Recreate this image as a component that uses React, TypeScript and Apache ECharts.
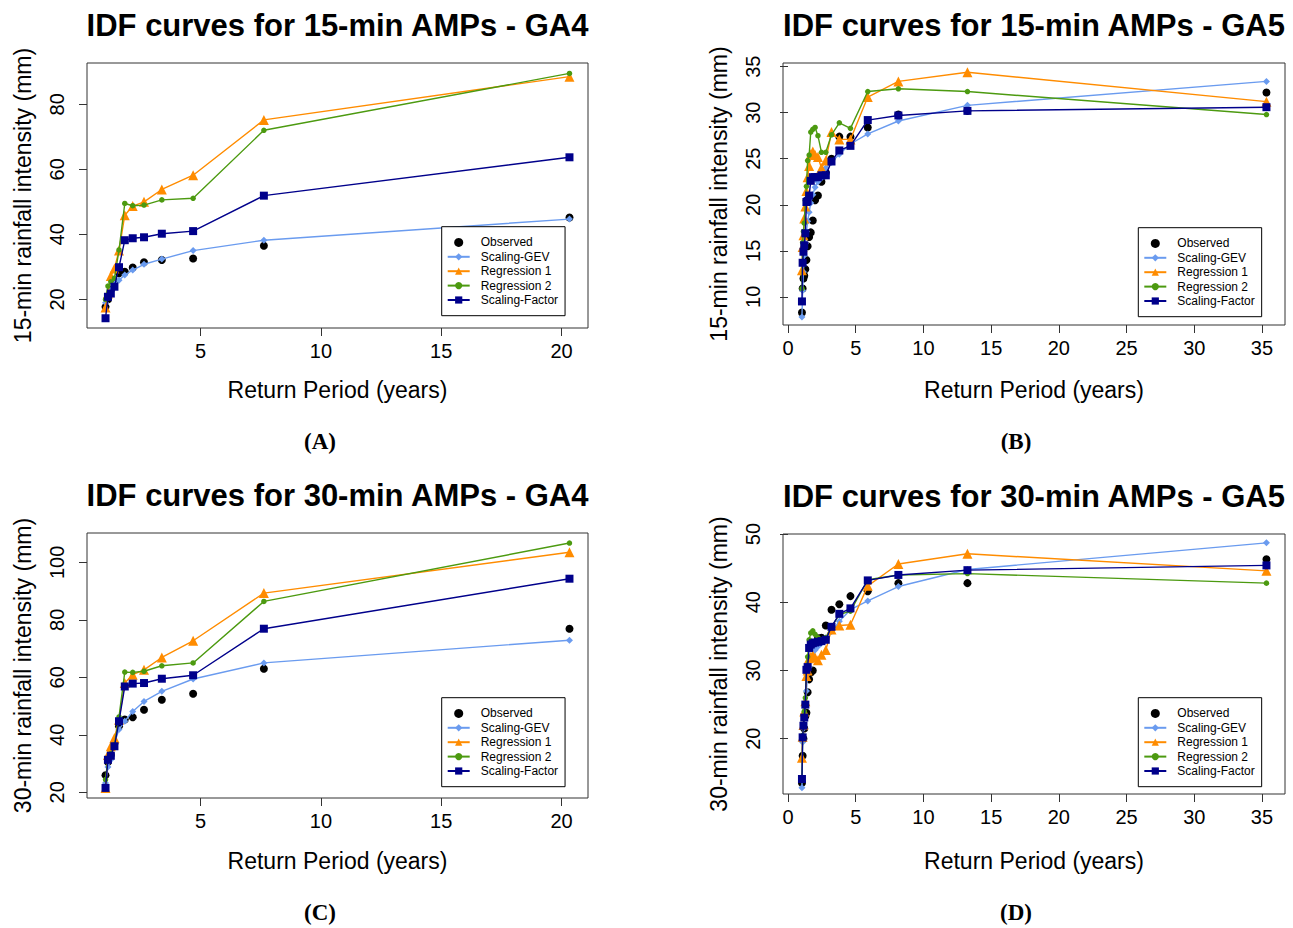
import React, { useEffect, useRef } from "react";
import * as echarts from "echarts";

// ---------- Data ----------
const periodsGA4 = [1.05, 1.15, 1.27, 1.42, 1.61, 1.85, 2.18, 2.65, 3.39, 4.69, 7.63, 20.33];
const periodsGA5 = [1.03, 1.08, 1.14, 1.2, 1.28, 1.36, 1.45, 1.56, 1.68, 1.83, 2.0, 2.21, 2.47, 2.79, 3.21, 3.79, 4.61, 5.89, 8.15, 13.25, 35.33];

// Panel A: 15-min GA4
const a_observed = [17.7, 20.0, 22.9, 25.4, 28.0, 28.5, 29.8, 31.4, 32.1, 32.6, 36.5, 45.2];
const a_scalingGEV = [19.0, 20.6, 22.9, 24.7, 25.9, 27.5, 29.0, 30.8, 32.4, 35.0, 38.2, 44.7];
const a_regression1 = [17.5, 21.8, 27.2, 29.5, 35.0, 45.9, 48.7, 50.0, 53.8, 58.2, 75.2, 88.5];
const a_regression2 = [20.0, 24.1, 25.4, 26.5, 35.2, 49.5, 48.8, 49.0, 50.6, 51.1, 72.0, 89.5];
const a_scalingFactor = [14.2, 20.8, 21.8, 23.9, 29.9, 38.2, 38.8, 39.1, 40.2, 41.0, 51.9, 63.7];

// Panel B: 15-min GA5
const b_observed = [8.3, 10.9, 12.0, 12.3, 13.0, 14.0, 15.5, 16.5, 17.0, 18.3, 20.5, 21.0, 22.5, 23.5, 25.0, 27.4, 27.4, 28.4, 29.8, 30.2, 32.2];
const b_scalingGEV = [7.8, 10.7, 12.7, 14.5, 15.8, 17.1, 18.2, 19.2, 20.2, 21.1, 21.9, 22.5, 22.9, 24.0, 24.6, 25.5, 26.6, 27.7, 29.1, 30.8, 33.4];
const b_regression1 = [12.9, 15.4, 16.7, 18.5, 19.8, 21.5, 23.0, 24.2, 25.5, 25.8, 25.4, 25.2, 24.0, 24.8, 27.9, 27.1, 27.1, 31.7, 33.4, 34.4, 31.2];
const b_regression2 = [10.9, 15.9, 17.1, 18.0, 20.5, 22.0, 24.8, 25.4, 27.9, 28.2, 28.4, 27.5, 25.7, 25.7, 27.6, 28.9, 28.3, 32.3, 32.6, 32.3, 29.8];
const b_scalingFactor = [9.5, 13.7, 14.9, 15.6, 16.9, 20.3, 20.4, 21.0, 22.6, 23.0, 23.0, 23.0, 23.2, 23.2, 24.7, 25.9, 26.4, 29.2, 29.7, 30.2, 30.6];

// Panel C: 30-min GA4
const c_observed = [25.9, 30.5, 33.0, 37.0, 43.0, 45.3, 46.1, 48.7, 52.2, 54.3, 63.0, 76.9];
const c_scalingGEV = [23.2, 28.8, 31.3, 37.1, 41.8, 44.7, 48.1, 51.6, 55.1, 59.4, 65.0, 72.9];
const c_regression1 = [21.5, 33.0, 36.0, 38.9, 45.2, 58.0, 60.9, 62.6, 66.9, 72.7, 89.3, 103.5];
const c_regression2 = [24.4, 31.9, 33.4, 36.5, 46.2, 61.8, 61.7, 62.1, 64.0, 65.0, 86.4, 106.7];
const c_scalingFactor = [21.5, 31.3, 32.7, 36.0, 44.7, 56.8, 57.8, 58.0, 59.5, 60.7, 76.9, 94.3];

// Panel D: 30-min GA5
const d_observed = [13.5, 17.5, 20.0, 21.5, 23.3, 23.8, 26.8, 28.7, 29.7, 30.0, 33.5, 34.7, 34.8, 36.6, 38.9, 39.7, 40.9, 41.6, 42.8, 42.8, 46.3];
const d_scalingGEV = [12.8, 19.5, 21.5, 23.0, 25.0, 27.0, 29.5, 30.5, 31.5, 32.3, 33.0, 33.5, 34.0, 34.8, 35.7, 37.2, 38.9, 40.2, 42.3, 44.8, 48.7];
const d_regression1 = [17.2, 20.3, 22.0, 24.0, 25.5, 29.2, 30.0, 31.8, 32.0, 32.2, 31.9, 31.5, 32.3, 33.0, 36.0, 36.6, 36.7, 42.4, 45.6, 47.1, 44.6];
const d_regression2 = [14.2, 20.5, 22.0, 24.0, 26.0, 30.5, 32.0, 34.5, 35.5, 35.8, 35.3, 34.8, 34.5, 34.8, 36.4, 38.2, 38.7, 43.3, 44.0, 44.2, 42.8];
const d_scalingFactor = [14.1, 20.2, 21.9, 23.1, 25.0, 30.1, 30.5, 33.3, 33.8, 34.0, 34.1, 34.2, 34.3, 34.5, 36.4, 38.3, 39.1, 43.2, 44.0, 44.7, 45.4];

// Tick labels
const xTicksGA4 = [5, 10, 15, 20];
const xTicksGA5 = [0, 5, 10, 15, 20, 25, 30, 35];
const yTicksA = [20, 40, 60, 80];
const yTicksB = [10, 15, 20, 25, 30, 35];
const yTicksC = [20, 40, 60, 80, 100];
const yTicksD = [20, 30, 40, 50];

const seriesNames = ["Observed", "Scaling-GEV", "Regression 1", "Regression 2", "Scaling-Factor"];
const titles = [
  "IDF curves for 15-min AMPs - GA4",
  "IDF curves for 15-min AMPs - GA5",
  "IDF curves for 30-min AMPs - GA4",
  "IDF curves for 30-min AMPs - GA5",
];
const captions = ["(A)", "(B)", "(C)", "(D)"];
const yNames = [
  "15-min rainfall intensity (mm)",
  "15-min rainfall intensity (mm)",
  "30-min rainfall intensity (mm)",
  "30-min rainfall intensity (mm)",
];
const xName = "Return Period (years)";

const panels = [
  { x: periodsGA4, ys: [a_observed, a_scalingGEV, a_regression1, a_regression2, a_scalingFactor], xTicks: xTicksGA4, yTicks: yTicksA },
  { x: periodsGA5, ys: [b_observed, b_scalingGEV, b_regression1, b_regression2, b_scalingFactor], xTicks: xTicksGA5, yTicks: yTicksB },
  { x: periodsGA4, ys: [c_observed, c_scalingGEV, c_regression1, c_regression2, c_scalingFactor], xTicks: xTicksGA4, yTicks: yTicksC },
  { x: periodsGA5, ys: [d_observed, d_scalingGEV, d_regression1, d_regression2, d_scalingFactor], xTicks: xTicksGA5, yTicks: yTicksD },
];

// ---------- Layout / style ----------
const grids = [
  { left: 87, top: 63, width: 501, height: 265 },
  { left: 783, top: 63, width: 502, height: 262 },
  { left: 87, top: 533, width: 501, height: 265 },
  { left: 783, top: 534, width: 502, height: 260 },
];
const xNameCenterY = [391, 391, 862, 862];
const xRanges = [[0.28, 21.1], [-0.37, 36.7], [0.28, 21.1], [-0.37, 36.7]];
const yRanges = [[11.2, 92.7], [6.94, 35.4], [18.0, 110.2], [11.9, 50.0]];
const legendPos = [
  { left: 441.7, top: 226.7 },
  { left: 1138.3, top: 227.7 },
  { left: 441.7, top: 697.7 },
  { left: 1138.3, top: 697.7 },
];
const captionPos = [
  { x: 320, y: 442 },
  { x: 1016, y: 442 },
  { x: 320, y: 913 },
  { x: 1016, y: 913 },
];

const styles = [
  { color: "#000000", symbol: "circle", size: 8, line: false },
  { color: "#6A9BEF", symbol: "diamond", size: 7, line: true },
  { color: "#FF8C00", symbol: "triangle", size: 10, line: true },
  { color: "#4C9A10", symbol: "circle", size: 5.5, line: true },
  { color: "#00008B", symbol: "rect", size: 8, line: true },
];

const SANS = "'Liberation Sans', Arial, Helvetica, sans-serif";
const SERIF = "'Liberation Serif', 'Times New Roman', serif";
const AXIS_COLOR = "#333";

export default function App() {
  const ref = useRef<HTMLDivElement>(null);

  useEffect(() => {
    if (!ref.current) return;
    const chart = echarts.init(ref.current, null, { renderer: "svg" });

    const title: any[] = [];
    titles.forEach((t, i) => {
      const g = grids[i];
      title.push({
        text: t,
        left: g.left + g.width / 2,
        top: g.top - 53,
        textAlign: "center",
        padding: 0,
        textStyle: { fontFamily: SANS, fontSize: 31, fontWeight: "bold", color: "#000" },
      });
    });
    captions.forEach((c, i) => {
      const p = captionPos[i];
      title.push({
        text: c,
        left: p.x,
        top: p.y - 12,
        textAlign: "center",
        padding: 0,
        textStyle: { fontFamily: SERIF, fontSize: 23, fontWeight: "bold", color: "#000" },
      });
    });

    const xAxis = panels.map((p, i) => ({
      type: "value",
      gridIndex: i,
      min: xRanges[i][0],
      max: xRanges[i][1],
      name: xName,
      nameLocation: "middle",
      nameGap: xNameCenterY[i] - 13 - (grids[i].top + grids[i].height),
      nameTextStyle: { fontFamily: SANS, fontSize: 23, color: "#000" },
      axisLine: { show: false },
      axisTick: { show: true, inside: false, length: 8, customValues: p.xTicks, lineStyle: { color: AXIS_COLOR, width: 1 } },
      axisLabel: { show: true, customValues: p.xTicks, margin: 13, fontFamily: SANS, fontSize: 20, color: "#000" },
      splitLine: { show: false },
    }));

    const yAxis = panels.map((p, i) => ({
      type: "value",
      gridIndex: i,
      min: yRanges[i][0],
      max: yRanges[i][1],
      name: yNames[i],
      nameLocation: "middle",
      nameGap: 53,
      nameTextStyle: { fontFamily: SANS, fontSize: 23, color: "#000" },
      axisLine: { show: false },
      axisTick: { show: true, inside: false, length: 8, customValues: p.yTicks, lineStyle: { color: AXIS_COLOR, width: 1 } },
      axisLabel: { show: true, customValues: p.yTicks, rotate: 90, margin: 20, fontFamily: SANS, fontSize: 20, color: "#000" },
      splitLine: { show: false },
    }));

    const series: any[] = [];
    panels.forEach((p, i) => {
      p.ys.forEach((vals, k) => {
        const st = styles[k];
        const data = p.x.map((xv, j) => [xv, vals[j]]);
        if (!st.line) {
          series.push({
            type: "scatter",
            name: seriesNames[k],
            xAxisIndex: i,
            yAxisIndex: i,
            data,
            symbol: st.symbol,
            symbolSize: st.size,
            itemStyle: { color: st.color, opacity: 1 },
            z: 2 + k,
          });
        } else {
          series.push({
            type: "line",
            name: seriesNames[k],
            xAxisIndex: i,
            yAxisIndex: i,
            data,
            symbol: st.symbol,
            symbolSize: st.size,
            showSymbol: true,
            showAllSymbol: true,
            lineStyle: { color: st.color, width: 1.4 },
            itemStyle: { color: st.color, opacity: 1 },
            z: 2 + k,
          });
        }
      });
    });

    const legend = legendPos.map((lp) => ({
      data: seriesNames,
      orient: "vertical",
      left: lp.left,
      top: lp.top,
      itemWidth: 22,
      itemHeight: 9,
      itemGap: 0.4,
      padding: [8.7, 7, 8.7, 5],
      borderColor: "#000",
      borderWidth: 1,
      backgroundColor: "#fff",
      selectedMode: false,
      textStyle: { fontFamily: SANS, fontSize: 12, color: "#000", lineHeight: 14, padding: [0, 0, 0, 6] },
    }));

    chart.setOption({
      animation: false,
      backgroundColor: "#fff",
      title,
      grid: grids.map((g) => ({ ...g, show: true, borderColor: AXIS_COLOR, borderWidth: 1, backgroundColor: "transparent" })),
      xAxis,
      yAxis,
      legend,
      series,
    });

    return () => chart.dispose();
  }, []);

  return <div ref={ref} style={{ position: "absolute", left: 0, top: 0, width: 1293, height: 928 }} />;
}
